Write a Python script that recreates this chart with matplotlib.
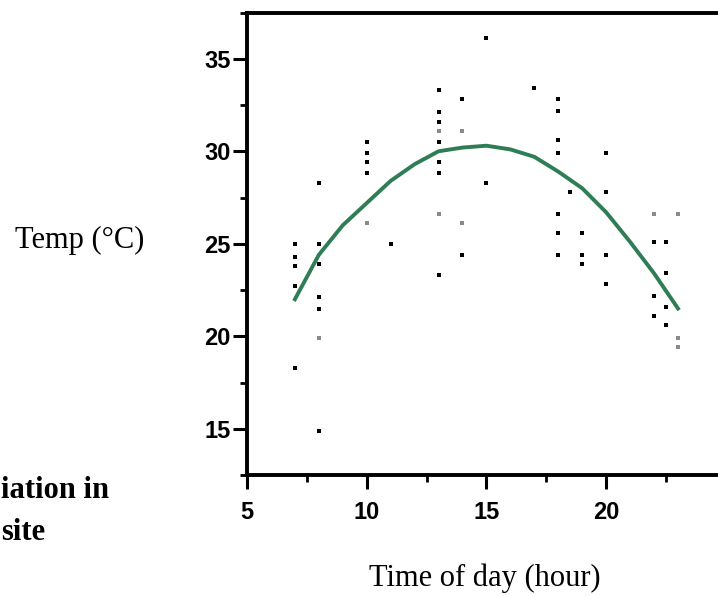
import matplotlib
matplotlib.use("Agg")
import matplotlib.pyplot as plt
from matplotlib.ticker import MultipleLocator

# hourly readings (black dots)
hours = [7, 7, 7, 7, 7,
         8, 8, 8, 8, 8, 8,
         10, 10, 10, 10,
         11,
         13, 13, 13, 13, 13, 13, 13,
         14, 14,
         15, 15,
         17,
         18, 18, 18, 18, 18, 18, 18,
         18.5,
         19, 19, 19,
         20, 20, 20, 20,
         22, 22, 22,
         22.5, 22.5, 22.5, 22.5]
temps = [25.0, 24.3, 23.8, 22.7, 18.3,
         28.3, 25.0, 23.9, 22.1, 21.5, 14.9,
         30.5, 29.9, 29.4, 28.8,
         25.0,
         33.3, 32.1, 31.6, 30.5, 29.4, 28.8, 23.3,
         32.8, 24.4,
         36.1, 28.3,
         33.4,
         32.8, 32.2, 30.6, 29.9, 26.6, 25.6, 24.4,
         27.8,
         25.6, 24.4, 23.9,
         29.9, 27.8, 24.4, 22.8,
         25.1, 22.2, 21.1,
         25.1, 23.4, 21.6, 20.6]

# fainter (grey) readings
hours_grey = [8, 10, 13, 13, 14, 14, 22, 23, 23, 23]
temps_grey = [19.9, 26.1, 31.1, 26.6, 31.1, 26.1, 26.6, 26.6, 19.9, 19.4]

# fitted curve
fit_hours = [7, 8, 9, 10, 11, 12, 13, 14, 15, 16, 17, 18, 19, 20, 21, 22, 23]
fit_temps = [22.0, 24.4, 26.0, 27.2, 28.4, 29.3, 30.0, 30.2, 30.3, 30.1,
             29.7, 28.9, 28.0, 26.7, 25.1, 23.4, 21.5]

x_ticks = [5, 10, 15, 20]
y_ticks = [15, 20, 25, 30, 35]

fig = plt.figure(figsize=(7.18, 5.96), dpi=100)
ax = fig.add_axes([0.344, 0.203, 0.667, 0.776])

ax.plot(fit_hours, fit_temps, color="#2f7d55", lw=2.8, zorder=2)
ax.scatter(hours, temps, s=5, marker="s", color="black", linewidths=0, zorder=3)
ax.scatter(hours_grey, temps_grey, s=5, marker="s", color="#8a8a8a", linewidths=0, zorder=3)

ax.set_xlim(5, 25)
ax.set_ylim(12.5, 37.5)
ax.set_xticks(x_ticks)
ax.set_yticks(y_ticks)
ax.xaxis.set_minor_locator(MultipleLocator(2.5))
ax.yaxis.set_minor_locator(MultipleLocator(2.5))

for side in ["left", "top", "bottom"]:
    ax.spines[side].set_linewidth(2.8)
ax.spines["right"].set_visible(False)

ax.tick_params(axis="both", which="major", length=10, width=2.2, direction="out")
ax.tick_params(axis="both", which="minor", length=5, width=2.0, direction="out")
ax.tick_params(axis="x", which="major", pad=9)
ax.tick_params(axis="y", which="major", pad=2)
for lab in ax.get_xticklabels() + ax.get_yticklabels():
    lab.set_fontfamily("Liberation Sans")
    lab.set_fontweight("bold")
    lab.set_fontsize(17)

fig.text(485 / 718, 1 - 578 / 596, "Time of day (hour)", family="Liberation Serif",
         fontsize=22, ha="center", va="center")
fig.text(80 / 718, 1 - 240 / 596, "Temp (°C)", family="Liberation Serif",
         fontsize=22, ha="center", va="center")

# fragment of the figure caption from the page
fig.text(0.002, 1 - 490 / 596, "iation in", family="Liberation Serif",
         fontsize=22, fontweight="bold", ha="left", va="center")
fig.text(0.002, 1 - 533 / 596, "site", family="Liberation Serif",
         fontsize=22, fontweight="bold", ha="left", va="center")

fig.savefig("out.png", dpi=100)
